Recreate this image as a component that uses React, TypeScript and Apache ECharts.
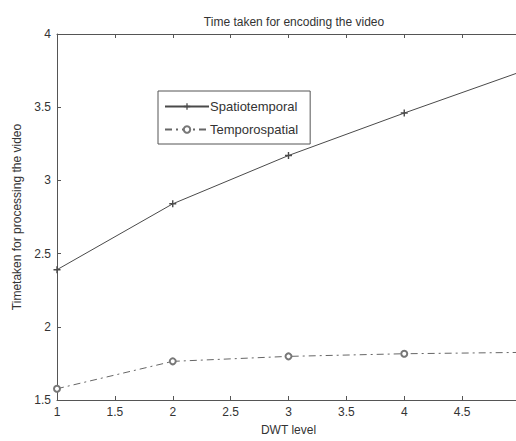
import React, { useEffect, useRef } from "react";
import * as echarts from "echarts";

const dwtLevels = [1, 2, 3, 4, 5];
const spatiotemporal = [2.39, 2.84, 3.17, 3.46, 3.74];
const temporospatial = [1.577, 1.764, 1.798, 1.816, 1.825];
const xTicks = [1, 1.5, 2, 2.5, 3, 3.5, 4, 4.5, 5];
const xTickLabels = ["1", "1.5", "2", "2.5", "3", "3.5", "4", "4.5", ""];
const yTicks = [1.5, 2, 2.5, 3, 3.5, 4];

const FONT = "Liberation Sans, Arial, sans-serif";
const AXIS = "#555";
const LINE = "#4a4a4a";
const TXT = "#333";

export default function App() {
  const ref = useRef<HTMLDivElement>(null);
  useEffect(() => {
    if (!ref.current) return;
    const chart = echarts.init(ref.current, undefined, { renderer: "svg" });
    const toPairs = (ys: number[]) => dwtLevels.map((x, i) => [x, ys[i]]);
    const xCommon = {
      type: "value" as const,
      min: xTicks[0],
      max: xTicks[xTicks.length - 1],
      interval: 0.5,
      splitLine: { show: false },
      axisLine: { show: true, onZero: false, lineStyle: { color: AXIS, width: 1 } },
      axisTick: { show: true, inside: true, length: 4, lineStyle: { color: AXIS } },
    };
    chart.setOption({
      animation: false,
      backgroundColor: "#fff",
      title: {
        text: "Time taken for encoding the video",
        left: 289,
        textAlign: "center",
        top: 11,
        textStyle: { fontFamily: FONT, fontSize: 12, fontWeight: "normal", color: TXT },
      },
      legend: {
        orient: "vertical",
        left: 158,
        top: 91,
        padding: [9, 12, 8, 6],
        itemGap: 10,
        itemWidth: 44,
        itemHeight: 8,
        borderColor: "#555",
        borderWidth: 1,
        backgroundColor: "#fff",
        textStyle: { fontFamily: FONT, fontSize: 13, color: TXT, padding: [0, 0, 0, -4] },
        data: ["Spatiotemporal", "Temporospatial"],
      },
      grid: { left: 57, top: 34, right: 4, bottom: 38, containLabel: false },
      xAxis: [
        {
          ...xCommon,
          position: "bottom",
          name: "DWT level",
          nameLocation: "middle",
          nameGap: 24,
          nameTextStyle: { fontFamily: FONT, fontSize: 12, color: TXT },
          axisLabel: {
            fontFamily: FONT,
            fontSize: 12,
            color: TXT,
            margin: 6,
            formatter: (v: number) => {
              const i = xTicks.indexOf(v);
              return i >= 0 ? xTickLabels[i] : "";
            },
          },
        },
        {
          ...xCommon,
          position: "top",
          axisLabel: { show: false },
        },
      ],
      yAxis: {
        type: "value",
        min: yTicks[0],
        max: yTicks[yTicks.length - 1],
        interval: 0.5,
        splitLine: { show: false },
        axisLine: { show: true, lineStyle: { color: AXIS, width: 1 } },
        axisTick: { show: true, inside: true, length: 4, lineStyle: { color: AXIS } },
        axisLabel: { fontFamily: FONT, fontSize: 12, color: TXT, margin: 6 },
        name: "Timetaken for processing the video",
        nameLocation: "middle",
        nameGap: 34,
        nameTextStyle: { fontFamily: FONT, fontSize: 12, color: TXT },
      },
      series: [
        {
          name: "Spatiotemporal",
          type: "line",
          data: toPairs(spatiotemporal),
          symbol: "path://M4,0H6V4H10V6H6V10H4V6H0V4H4Z",
          symbolSize: 7,
          itemStyle: { color: LINE },
          lineStyle: { color: LINE, width: 1 },
        },
        {
          name: "Temporospatial",
          type: "line",
          data: toPairs(temporospatial),
          symbol: "emptyCircle",
          symbolSize: 6,
          itemStyle: { color: "#777", borderColor: "#777", borderWidth: 1 },
          lineStyle: { color: "#666", width: 1, type: [7, 4, 2, 4] },
        },
      ],
    });
    return () => chart.dispose();
  }, []);
  return (
    <div
      ref={ref}
      style={{ position: "fixed", left: 0, top: 0, width: 524, height: 441 }}
    />
  );
}
